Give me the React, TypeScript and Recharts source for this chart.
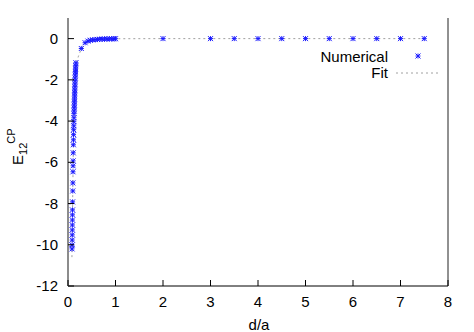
import React from "react";
import { ScatterChart, Scatter, XAxis, YAxis } from "recharts";

const numX = [
  0.085, 0.087, 0.089, 0.09, 0.091, 0.092, 0.093, 0.094, 0.095, 0.097, 0.1, 0.102, 0.105, 0.107, 0.108, 0.11,
  0.113, 0.115, 0.117, 0.119, 0.121, 0.123, 0.125, 0.127, 0.129, 0.131, 0.133, 0.135, 0.137, 0.139, 0.141,
  0.143, 0.145, 0.147, 0.149, 0.151, 0.154, 0.157, 0.16, 0.163, 0.167,
  0.28, 0.36, 0.42, 0.47, 0.52, 0.57, 0.62, 0.67, 0.72, 0.77, 0.82, 0.87, 0.92, 0.97, 1.0,
  2, 3, 3.5, 4, 4.5, 5, 5.5, 6, 6.5, 7, 7.5,
];
const numY = [
  -10.2, -10.01, -9.77, -9.52, -9.28, -9.04, -8.8, -8.55, -8.31, -7.92, -7.39, -7.0, -6.46, -6.17, -5.93, -5.54,
  -5.15, -4.91, -4.66, -4.42, -4.23, -4.03, -3.84, -3.64, -3.5, -3.35, -3.21, -3.06, -2.92, -2.77, -2.62,
  -2.48, -2.33, -2.19, -2.04, -1.9, -1.75, -1.6, -1.46, -1.31, -1.17,
  -0.48, -0.2, -0.12, -0.08, -0.06, -0.05, -0.04, -0.03, -0.025, -0.02, -0.015, -0.01, -0.01, -0.01, -0.005,
  0, 0, 0, 0, 0, 0, 0, 0, 0, 0, 0,
];

const fitX = [0.083, 0.085, 0.09, 0.1, 0.11, 0.12, 0.13, 0.14, 0.15, 0.16, 0.18, 0.22, 0.28, 0.36, 0.45, 0.6, 0.8, 1, 2, 3, 4, 5, 6, 7, 7.5];
const fitY = [-10.6, -10.2, -9.4, -7.5, -5.7, -4.3, -3.4, -2.7, -2.1, -1.6, -1.2, -0.85, -0.5, -0.22, -0.1, -0.04, -0.015, -0.006, 0, 0, 0, 0, 0, 0, 0];

const xTicks = [0, 1, 2, 3, 4, 5, 6, 7, 8];
const yTicks = [-12, -10, -8, -6, -4, -2, 0];

const numData = numX.map((x, i) => ({ x, y: numY[i] }));
const fitData = fitX.map((x, i) => ({ x, y: fitY[i] }));

const FONT = "'Liberation Sans', Arial, Helvetica, sans-serif";
const BLUE = "#1a1aff";
const FITC = "#a0a0a0";

const Star = (props: any) => {
  const { cx, cy } = props;
  if (cx == null || cy == null) return <g />;
  const s = 2.5;
  return (
    <g stroke={BLUE} strokeWidth={1}>
      <line x1={cx - s} y1={cy} x2={cx + s} y2={cy} />
      <line x1={cx} y1={cy - s} x2={cx} y2={cy + s} />
      <line x1={cx - s} y1={cy - s} x2={cx + s} y2={cy + s} />
      <line x1={cx - s} y1={cy + s} x2={cx + s} y2={cy - s} />
    </g>
  );
};

const Empty = () => <g />;

const BottomTick = (props: any) => {
  const { x, y, payload } = props;
  return (
    <g>
      <line x1={x} y1={y} x2={x} y2={y - 6} stroke="#000" />
      <text x={x} y={y + 21} textAnchor="middle" fontSize={15} fontFamily={FONT} fill="#000">
        {payload.value}
      </text>
    </g>
  );
};

const TopTick = (props: any) => {
  const { x, y } = props;
  return <line x1={x} y1={y} x2={x} y2={y + 6} stroke="#000" />;
};

const LeftTick = (props: any) => {
  const { x, y, payload } = props;
  return (
    <g>
      <line x1={x} y1={y} x2={x + 6} y2={y} stroke="#000" />
      <text x={x - 10} y={y + 5} textAnchor="end" fontSize={15} fontFamily={FONT} fill="#000">
        {payload.value}
      </text>
    </g>
  );
};

const RightTick = (props: any) => {
  const { x, y } = props;
  return <line x1={x} y1={y} x2={x - 6} y2={y} stroke="#000" />;
};

export default function App() {
  return (
    <div style={{ position: "absolute", left: 0, top: 0, width: 474, height: 332, background: "#fff" }}>
      <ScatterChart width={474} height={332} margin={{ top: 18, right: 0, bottom: 0, left: 0 }}>
        <XAxis
          dataKey="x"
          type="number"
          domain={[0, 8]}
          ticks={xTicks}
          height={46}
          tickSize={0}
          tickMargin={0}
          tickLine={false}
          axisLine={{ stroke: "#000" }}
          tick={<BottomTick />}
          interval={0}
        />
        <XAxis
          xAxisId="top"
          orientation="top"
          type="number"
          domain={[0, 8]}
          ticks={xTicks}
          height={0}
          tickSize={0}
          tickMargin={0}
          tickLine={false}
          axisLine={{ stroke: "#000" }}
          tick={<TopTick />}
          interval={0}
        />
        <YAxis
          dataKey="y"
          type="number"
          domain={[-12, 1]}
          ticks={yTicks}
          width={68}
          tickSize={0}
          tickMargin={0}
          tickLine={false}
          axisLine={{ stroke: "#8c8c8c", strokeWidth: 2 }}
          tick={<LeftTick />}
          interval={0}
        />
        <YAxis
          yAxisId="right"
          orientation="right"
          type="number"
          domain={[-12, 1]}
          ticks={yTicks}
          width={26}
          tickSize={0}
          tickMargin={0}
          tickLine={false}
          axisLine={{ stroke: "#222" }}
          tick={<RightTick />}
          interval={0}
        />
        <Scatter
          data={fitData}
          line={{ stroke: FITC, strokeWidth: 1, strokeDasharray: "2 3" }}
          shape={<Empty />}
          isAnimationActive={false}
        />
        <Scatter data={numData} shape={<Star />} isAnimationActive={false} />
      </ScatterChart>
      <svg
        width={474}
        height={332}
        style={{ position: "absolute", left: 0, top: 0, pointerEvents: "none" }}
      >
        <text x={388} y={62} textAnchor="end" fontSize={15} fontFamily={FONT} fill="#000">
          Numerical
        </text>
        <g stroke={BLUE} strokeWidth={1}>
          <line x1={415.5} y1={56} x2={420.5} y2={56} />
          <line x1={418} y1={53.5} x2={418} y2={58.5} />
          <line x1={415.5} y1={53.5} x2={420.5} y2={58.5} />
          <line x1={415.5} y1={58.5} x2={420.5} y2={53.5} />
        </g>
        <text x={388} y={78} textAnchor="end" fontSize={15} fontFamily={FONT} fill="#000">
          Fit
        </text>
        <line x1={396} y1={73} x2={440} y2={73} stroke={FITC} strokeDasharray="2 3" />
        <text x={259} y={330} textAnchor="middle" fontSize={15} fontFamily={FONT} fill="#000">
          d/a
        </text>
        <text
          transform="rotate(-90, 23, 165)"
          x={23}
          y={165}
          fontSize={15}
          fontFamily={FONT}
          fill="#000"
        >
          E
          <tspan fontSize={11} dy={4}>12</tspan>
          <tspan fontSize={11} dy={-12} dx={-1}>CP</tspan>
        </text>
      </svg>
    </div>
  );
}
